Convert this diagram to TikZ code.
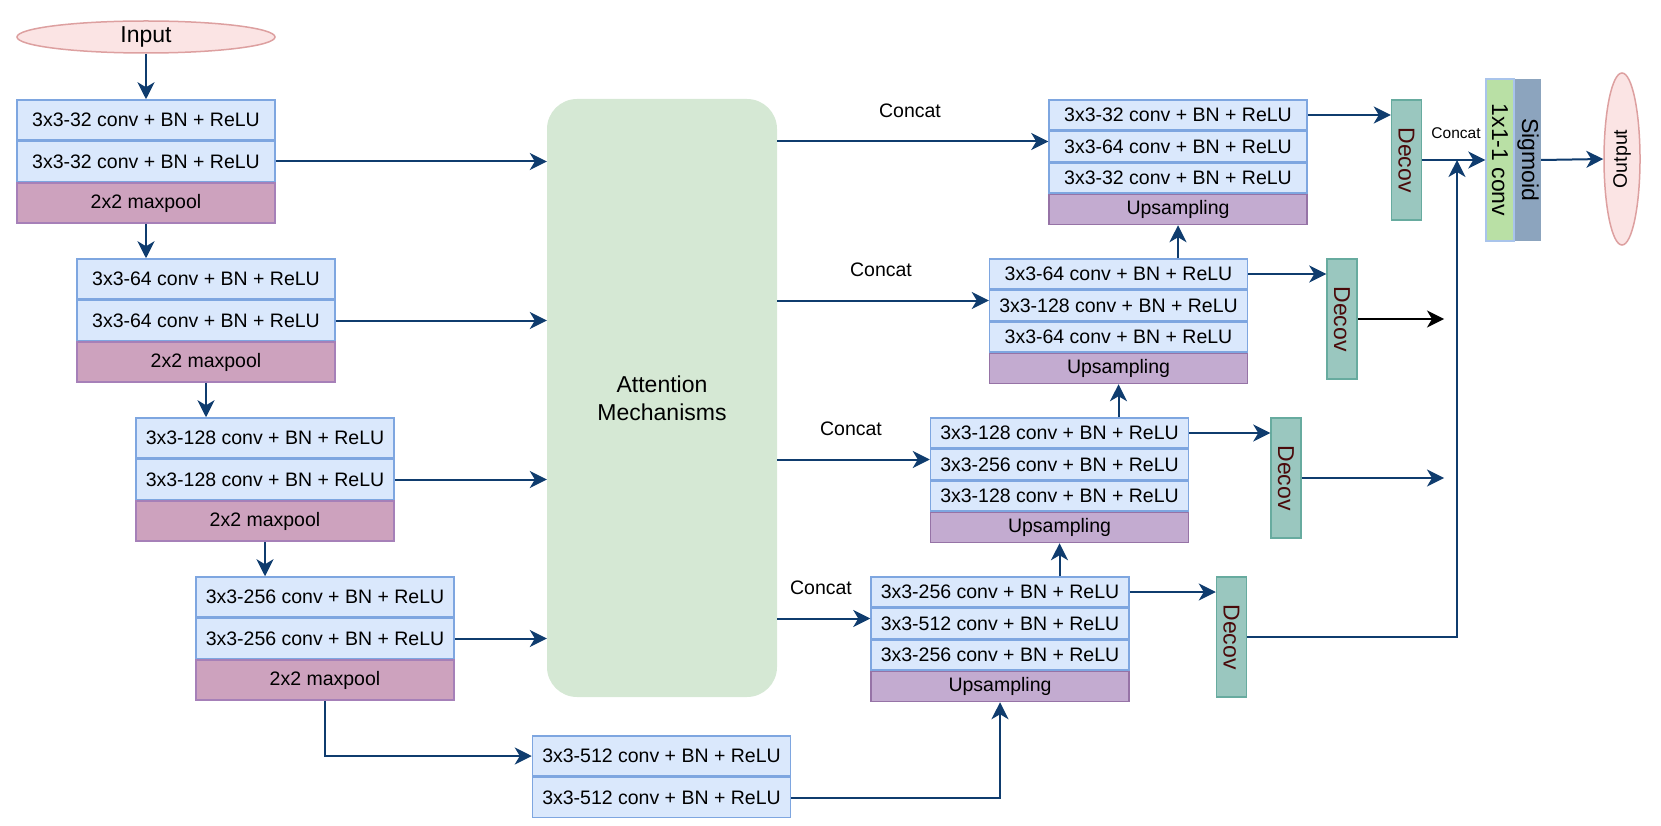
\documentclass[tikz,border=0pt]{standalone}
\usepackage{fontspec}
\setmainfont{Liberation Sans}
\usetikzlibrary{arrows.meta,positioning,shapes.geometric}
\definecolor{convfill}{HTML}{DAE8FC}
\definecolor{convdraw}{HTML}{7EA6E0}
\definecolor{poolfill}{HTML}{CDA2BE}
\definecolor{pooldraw}{HTML}{A680B8}
\definecolor{upfill}{HTML}{C3ABD0}
\definecolor{updraw}{HTML}{9673A6}
\definecolor{attfill}{HTML}{D5E8D4}
\definecolor{dcvfill}{HTML}{9AC7BF}
\definecolor{dcvdraw}{HTML}{67AB9F}
\definecolor{dcvtext}{HTML}{4A0A0A}
\definecolor{c11fill}{HTML}{B9E0A5}
\definecolor{c11draw}{HTML}{A9C4EB}
\definecolor{sigfill}{HTML}{8CA4BE}
\definecolor{ovalfill}{HTML}{FBE4E4}
\definecolor{ovaldraw}{HTML}{DDA0A0}
\definecolor{arrblue}{HTML}{0F3C6E}
\newcommand{\diagfont}{\fontsize{19.5}{23}\selectfont}
\newcommand{\diagbig}{\fontsize{23}{28}\selectfont}
\newcommand{\diagsmall}{\fontsize{15.5}{18}\selectfont}
\tikzset{
  every picture/.append style={font=\diagfont},
  cbox/.style  = {rectangle, draw=convdraw, fill=convfill, line width=1.5pt,
                  minimum width=258pt, minimum height=40pt, inner sep=0pt},
  cboxd/.style = {cbox, minimum height=30pt},
  pbox/.style  = {cbox, draw=pooldraw, fill=poolfill},
  ubox/.style  = {cboxd, draw=updraw, fill=upfill},
  dcv/.style   = {rectangle, draw=dcvdraw, fill=dcvfill, line width=1.5pt,
                  minimum width=30pt, minimum height=120pt, inner sep=0pt},
  vlab/.style  = {rotate=-90, font=\diagbig, text=dcvtext, inner sep=0pt},
  oval/.style  = {ellipse, draw=ovaldraw, fill=ovalfill, line width=1.5pt,
                  inner sep=0pt, font=\diagbig},
  arr/.style   = {-{Stealth[length=17pt, width=17pt, inset=5pt]}, draw=arrblue,
                  line width=2pt},
  arrk/.style  = {arr, draw=black},
}

\begin{document}
\begin{tikzpicture}[x=1pt, y=-1pt]
  \useasboundingbox (0,0) rectangle (1661,826);
  \node[oval, minimum width=258pt, minimum height=32pt] (inp) at (146,37) {Input};
  % encoder: two conv rows and a pooling row per level
  \foreach \i/\x/\y/\ch in {1/146/120/32, 2/206/279/64, 3/265/438/128, 4/325/597/256}{%
    \node[cbox] (e\i-a) at (\x,\y) {3x3-\ch\ conv + BN + ReLU};
    \node[cbox, below=0pt of e\i-a] (e\i-b) {3x3-\ch\ conv + BN + ReLU};
    \node[pbox, below=0pt of e\i-b] (e\i-p) {2x2 maxpool};}
  \node[rectangle, rounded corners=30pt, fill=attfill, minimum width=230pt,
        minimum height=598pt, align=center, font=\diagbig] (att) at (662,398)
        {Attention\\Mechanisms};
  \node[cbox] (b1) at (661.5,756) {3x3-512 conv + BN + ReLU};
  \node[cbox, below=0pt of b1] (b2) {3x3-512 conv + BN + ReLU};
  % decoder: three conv rows, upsampling, decov beside
  \foreach \i/\x/\y/\ch/\chm/\vx/\cx in {1/1178/115/32/64/1406.5/910,
      2/1118.5/274/64/128/1342/881, 3/1059.5/433/128/256/1286/851,
      4/1000/592/256/512/1231.5/821}{%
    \node[cboxd] (d\i-a) at (\x,\y) {3x3-\ch\ conv + BN + ReLU};
    \node[cboxd, below=0pt of d\i-a] (d\i-b) {3x3-\chm\ conv + BN + ReLU};
    \node[cboxd, below=0pt of d\i-b] (d\i-c) {3x3-\ch\ conv + BN + ReLU};
    \node[ubox, below=0pt of d\i-c] (d\i-u) {Upsampling};
    \node[dcv, label={[vlab]center:Decov}] (v\i) at (\vx,\y+45) {};
    \node (c\i) at (\cx,\y-4) {Concat};
    \coordinate[yshift=5pt] (k\i) at (d\i-b.west);
    \draw[arr] (att.east |- k\i) -- (k\i);
    \draw[arr] (d\i-a.east) -- (d\i-a.east -| v\i.west);}
  % output head
  \node[draw=c11draw, fill=c11fill, line width=1.5pt, minimum width=28pt,
        minimum height=162pt, inner sep=0pt,
        label={[vlab, text=black]center:1x1-1 conv}] (f1) at (1500,160) {};
  \node[fill=sigfill, minimum width=26pt, minimum height=162pt, inner sep=0pt,
        right=0pt of f1, label={[vlab, text=black]center:Sigmoid}] (f2) {};
  \node[oval, minimum width=36pt, minimum height=172pt,
        label={[rotate=90, font=\diagfont]center:Output}] (out) at (1622,159) {};
  \coordinate (mrg) at (1457,160);
  \node[font=\diagsmall] (cf) at (1456,133) {Concat};
  % connectors
  \draw[arr] (inp.south) -- (e1-a.north);
  \foreach \i/\j in {1/2,2/3,3/4}
    \draw[arr] (e\i-p.south) -- (e\i-p.south |- e\j-a.north);
  \foreach \i in {1,...,4}
    \draw[arr] (e\i-b.east) -- (e\i-b.east -| att.west);
  \draw[arr] (e4-p.south) |- (b1.west);
  \draw[arr] (b2.east) -| (d4-u.south);
  \foreach \i/\j in {1/2,2/3,3/4}
    \draw[arr] (d\j-a.north -| d\i-u.south) -- (d\i-u.south);
  \draw[arr] (v1.east) -- (f1.west);
  \draw[arr] (v4.east) -| (mrg);
  \coordinate[xshift=-13pt] (j3) at (v3.east -| mrg);
  \coordinate[xshift=-13pt] (j2) at (v2.east -| mrg);
  \draw[arr] (v3.east) -- (j3);
  \draw[arrk] (v2.east) -- (j2);
  \draw[arr] (f2.east) -- (out.west);
\end{tikzpicture}
\end{document}
